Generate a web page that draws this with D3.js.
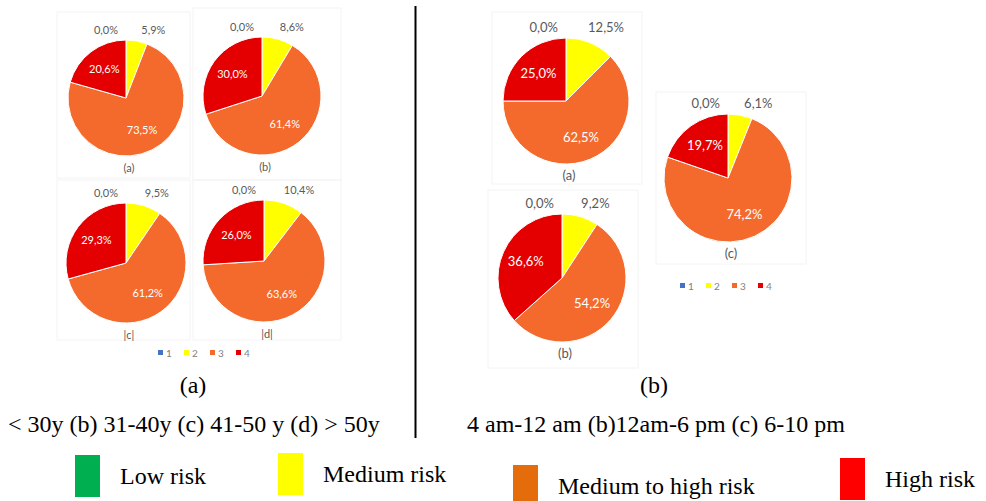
<!DOCTYPE html>
<html lang="en">
<head>
  <meta charset="UTF-8">
  <title>Risk distribution pies</title>
  <script src="https://d3js.org/d3.v7.min.js"></script>
  <style>
    body { margin: 0; background: #fff; }
    svg { display: block; }
    .pct { font-family: Lato, "Open Sans", sans-serif; }
    .cap { font-family: "Liberation Serif", "Times New Roman", serif; fill: #000; }
  </style>
</head>
<body>
<svg id="fig" width="986" height="501"></svg>
<script>
// risk classes 1..4, slices go clockwise from 12 o'clock
const riskClasses = ["1", "2", "3", "4"];
const sliceColors = ["#4472C4", "#FFFF00", "#F36A2C", "#E40000"];

// (a) age groups
const ageCaptions = ["(a)", "(b)", "|c|", "|d|"];
const ageShares = [
  [0.0, 5.9, 73.5, 20.6],
  [0.0, 8.6, 61.4, 30.0],
  [0.0, 9.5, 61.2, 29.3],
  [0.0, 10.4, 63.6, 26.0]
];

// (b) time of day
const timeCaptions = ["(a)", "(b)", "(c)"];
const timeShares = [
  [0.0, 12.5, 62.5, 25.0],
  [0.0, 9.2, 54.2, 36.6],
  [0.0, 6.1, 74.2, 19.7]
];

const panelTitles = ["(a)", "(b)"];
const panelNotes = ["< 30y (b) 31-40y (c) 41-50 y (d) > 50y", "4 am-12 am (b)12am-6 pm (c) 6-10 pm"];

const legendLabels = ["Low risk", "Medium risk", "Medium to high risk", "High risk"];
const legendColors = ["#00B050", "#FFFF00", "#E46C0A", "#FF0000"];

const svg = d3.select("#fig");
const fmt = v => d3.format(".1f")(v).replace(".", ",") + "%";
const pie = d3.pie().sort(null).value(d => d);

// layout: pie centre / radius / chart box
const ageLayout = [
  {cx: 126, cy: 98, r: 58, box: [57, 12, 133, 166]},
  {cx: 262, cy: 96, r: 59, box: [193, 8, 148, 172]},
  {cx: 126, cy: 263, r: 60, box: [57, 180, 133, 160]},
  {cx: 264, cy: 261, r: 61, box: [193, 180, 148, 160]}
];
const timeLayout = [
  {cx: 566, cy: 101, r: 63, box: [492, 12, 150, 172]},
  {cx: 562, cy: 278, r: 64, box: [488, 190, 150, 178]},
  {cx: 728, cy: 178, r: 64, box: [656, 92, 150, 172]}
];

function drawPie(shares, lay, caption, fs) {
  const g = svg.append("g");
  g.append("rect")
    .attr("x", lay.box[0]).attr("y", lay.box[1])
    .attr("width", lay.box[2]).attr("height", lay.box[3])
    .attr("fill", "none").attr("stroke", "#f4f4f4");

  const arcs = pie(shares);
  const arc = d3.arc().innerRadius(0).outerRadius(lay.r);
  const pg = g.append("g").attr("transform", `translate(${lay.cx},${lay.cy})`);
  pg.selectAll("path").data(arcs).join("path")
    .attr("d", arc)
    .attr("fill", (d, i) => sliceColors[i])
    .attr("stroke", "#fff").attr("stroke-width", 1);

  const inner = d3.arc().innerRadius(lay.r * 0.62).outerRadius(lay.r * 0.62);
  arcs.forEach((d, i) => {
    const t = pg.append("text").attr("class", "pct").attr("font-size", fs).text(fmt(d.data));
    if (i >= 2) {
      const [x, y] = inner.centroid(d);
      t.attr("x", x).attr("y", y + fs * 0.35).attr("text-anchor", "middle").attr("fill", "#fff");
    } else if (i === 0) {
      t.attr("x", -8).attr("y", -lay.r - 6).attr("text-anchor", "end").attr("fill", "#595959");
    } else {
      const mid = (d.startAngle + d.endAngle) / 2;
      t.attr("x", 10 + lay.r * Math.sin(mid) * 0.5).attr("y", -lay.r - 6)
        .attr("text-anchor", "start").attr("fill", "#595959");
    }
  });

  g.append("text").attr("class", "pct")
    .attr("x", lay.cx + 3).attr("y", lay.cy + lay.r + 16)
    .attr("text-anchor", "middle").attr("font-size", fs).attr("fill", "#595959")
    .text(caption);
}

function drawSmallLegend(x0, y0) {
  const g = svg.append("g").attr("transform", `translate(${x0},${y0})`);
  const x = d3.scalePoint().domain(riskClasses).range([0, 78]);
  riskClasses.forEach((c, i) => {
    g.append("rect").attr("x", x(c)).attr("y", -3).attr("width", 5).attr("height", 5).attr("fill", sliceColors[i]);
    g.append("text").attr("class", "pct").attr("x", x(c) + 8).attr("y", 4)
      .attr("font-size", 10).attr("fill", "#7f7f7f").text(c);
  });
}

ageShares.forEach((s, i) => drawPie(s, ageLayout[i], ageCaptions[i], 11));
timeShares.forEach((s, i) => drawPie(s, timeLayout[i], timeCaptions[i], 13));
drawSmallLegend(158, 353);
drawSmallLegend(680, 286);

// divider
svg.append("line").attr("x1", 415.5).attr("x2", 415.5).attr("y1", 6).attr("y2", 438)
  .attr("stroke", "#000").attr("stroke-width", 2);

// panel captions
const titleX = [193, 654];
const noteX = [8, 467];
panelTitles.forEach((t, i) => {
  svg.append("text").attr("class", "cap").attr("x", titleX[i]).attr("y", 393)
    .attr("text-anchor", "middle").attr("font-size", 24).text(t);
  svg.append("text").attr("class", "cap").attr("x", noteX[i]).attr("y", 432)
    .attr("font-size", 24).text(panelNotes[i]);
});

// bottom legend
const legX = [75, 278, 513, 840];
const legY = [455, 453, 465, 458];
legendLabels.forEach((l, i) => {
  svg.append("rect").attr("x", legX[i]).attr("y", legY[i]).attr("width", 25).attr("height", 42)
    .attr("fill", legendColors[i]);
  svg.append("text").attr("class", "cap").attr("x", legX[i] + 45).attr("y", legY[i] + 29)
    .attr("font-size", 24).text(l);
});
</script>
</body>
</html>
